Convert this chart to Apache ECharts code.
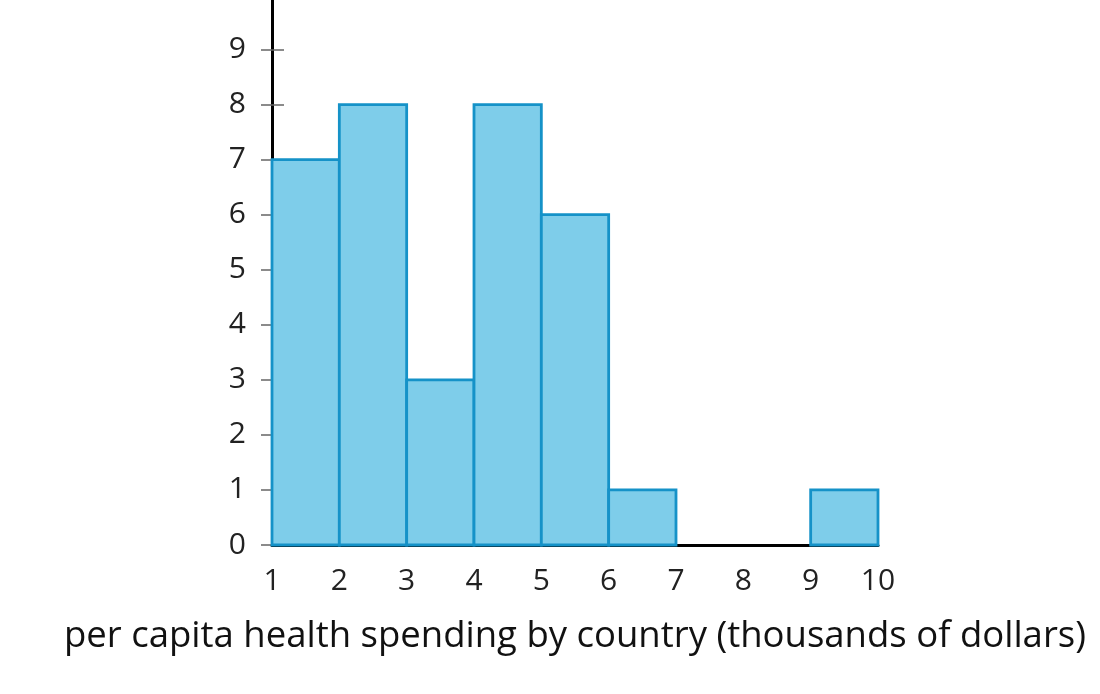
<!DOCTYPE html>
<html lang="en">
<head>
  <meta charset="UTF-8">
  <title>Per capita health spending histogram</title>
  <style>
    html, body { margin: 0; padding: 0; background: #fff; }
    #chart { width: 1100px; height: 694px; }
  </style>
</head>
<body>
<div id="chart"></div>
<script src="https://cdn.jsdelivr.net/npm/echarts@6/dist/echarts.min.js"></script>
<script>
  // histogram bins (thousands of dollars) and country counts
  const binStarts = [1, 2, 3, 4, 5, 6, 7, 8, 9];
  const binEnds = [2, 3, 4, 5, 6, 7, 8, 9, 10];
  const counts = [7, 8, 3, 8, 6, 1, 0, 0, 1];
  const xTicks = [1, 2, 3, 4, 5, 6, 7, 8, 9, 10];
  const yTicks = [0, 1, 2, 3, 4, 5, 6, 7, 8, 9];
  const axisTitle = 'per capita health spending by country (thousands of dollars)';

  const barData = binStarts.map((s, i) => [s, binEnds[i], counts[i]]);

  const chart = echarts.init(document.getElementById('chart'));
  const font = '"Open Sans", "Noto Sans", sans-serif';
  const gridLeft = 272, gridRight = 222;
  const plotWidth = 1100 - gridLeft - gridRight;
  const yMax = 9.9;

  function histRect(params, api) {
    const h = api.value(2);
    if (!h) return null;
    const p0 = api.coord([api.value(0), 0]);
    const p1 = api.coord([api.value(1), h]);
    return {
      type: 'rect',
      shape: { x: p0[0], y: p1[1], width: p1[0] - p0[0], height: p0[1] - p1[1] },
      style: { fill: '#7ecdea', stroke: '#1592c8', lineWidth: 2.8 }
    };
  }

  const option = {
    animation: false,
    grid: { left: gridLeft, right: gridRight, top: 0, bottom: 149 },
    xAxis: {
      type: 'value',
      min: xTicks[0],
      max: xTicks[xTicks.length - 1],
      interval: 1,
      name: axisTitle,
      nameLocation: 'middle',
      nameGap: 73,
      nameTextStyle: { fontFamily: font, fontSize: 36.5, color: '#111' },
      axisLine: { show: true, onZero: false, lineStyle: { color: '#000', width: 3 } },
      axisTick: { show: false },
      splitLine: { show: false },
      axisLabel: { fontFamily: font, fontSize: 30, color: '#222', margin: 21 }
    },
    yAxis: [
      {
        type: 'value',
        min: 0,
        max: yMax,
        interval: 1,
        axisLine: { show: true, lineStyle: { color: '#000', width: 3 } },
        axisTick: { show: true, length: 11, customValues: yTicks, lineStyle: { color: '#666', width: 1.5 } },
        splitLine: { show: false },
        axisLabel: { fontFamily: font, fontSize: 30, color: '#222', margin: 26, customValues: yTicks }
      },
      {
        // same scale, used only for the half of each tick right of the axis
        type: 'value',
        position: 'right',
        offset: -plotWidth,
        min: 0,
        max: yMax,
        interval: 1,
        axisLine: { show: false },
        axisTick: { show: true, length: 12, customValues: yTicks, lineStyle: { color: '#666', width: 1.5 } },
        splitLine: { show: false },
        axisLabel: { show: false }
      }
    ],
    series: [
      {
        type: 'custom',
        yAxisIndex: 1,
        encode: { x: [0, 1], y: 2 },
        data: barData,
        silent: true,
        z: 1,
        renderItem: function () { return null; }
      },
      {
        type: 'custom',
        yAxisIndex: 0,
        encode: { x: [0, 1], y: 2 },
        data: barData,
        renderItem: histRect
      }
    ]
  };

  chart.setOption(option);
</script>
</body>
</html>
